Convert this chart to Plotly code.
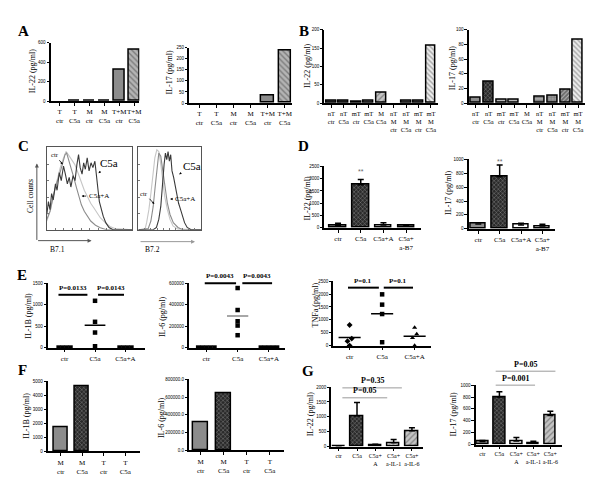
import plotly.graph_objects as go

W, H = 600, 493
FONT = "Liberation Serif"

# ------------------------------------------------------------------ data
A_cats = ["T<br>ctr", "T<br>C5a", "M<br>ctr", "M<br>C5a", "T+M<br>ctr", "T+M<br>C5a"]
A_il22 = [0, 3, 4, 3, 325, 532]
A_il17 = [0, 0, 0, 0, 35, 235]

B_cats = ["nT<br>ctr", "nT<br>C5a", "mT<br>ctr", "mT<br>C5a", "M<br>C5a",
          "nT<br>M<br>ctr", "nT<br>M<br>C5a", "mT<br>M<br>ctr", "mT<br>M<br>C5a"]
B_il22 = [5, 5, 3, 5, 27, 0, 5, 7, 155]
B_il17 = [7, 29, 5, 5, 0, 8, 10, 18, 86]

# flow histograms (x: % of box width, y: % of box height)
C1_ctr_x = [0, 4.5, 8.1, 11.9, 15.7, 19.5, 22.5, 25.1, 28.8, 32.6, 36.3, 40.1, 43.8, 47.6, 51.3, 55.1, 58.8, 62.5, 68.2, 73.8, 79.4, 100]
C1_ctr_y = [10.7, 24.6, 44.4, 60.3, 76.2, 88.1, 96, 92.1, 86.1, 80.2, 70.2, 58.3, 48.4, 40.5, 32.5, 26.6, 20.6, 14.7, 8.7, 4, 1.6, 0]
C1_a_x = [0, 3.7, 7.5, 11.2, 15, 18.7, 21.3, 23.2, 26.2, 28.8, 31.5, 34.5, 37.5, 40.4, 43.8, 47.6, 51.3, 56.9, 62.5, 70, 100]
C1_a_y = [12.7, 22.6, 40.5, 56.3, 68.3, 82.1, 92.1, 94, 84.1, 74.2, 64.3, 52.4, 40.5, 30.6, 22.6, 15.9, 10.7, 5.6, 2.4, 0, 0]
C1_c5a_x = [0, 1.9, 3.7, 5.6, 7.5, 10.1, 12, 14.6, 16.9, 19.5, 21.7, 24, 26.2, 28.1, 30.7, 33, 35.2, 37.1, 39, 41.2,
            43.1, 45, 47.2, 49.4, 51.7, 53.9, 56.2, 58.4, 59.9, 61.4, 63.7, 65.9, 68.9, 72.7, 77.5, 100]
C1_c5a_y = [18.7, 34.5, 24.6, 44.4, 36.5, 56.3, 48.4, 70.2, 60.3, 78.2, 68.3, 56.3, 64.3, 52.4, 66.3, 60.3, 80.2, 92.1, 76.2, 68.3,
            82.1, 74.2, 88.1, 72.2, 82.1, 76.2, 84.1, 66.3, 48.4, 34.5, 24.6, 16.7, 8.7, 2.8, 0, 0]

C2_ctr_x = [0, 10.5, 13.2, 16.8, 20, 23.2, 26.3, 29.5, 32.6, 35.8, 38.9, 42.1, 46.3, 50.5, 55.3, 63.2, 100]
C2_ctr_y = [0, 0, 8.7, 24.6, 44.4, 68.3, 88.1, 98, 96, 80.2, 60.3, 40.5, 24.6, 12.7, 4.8, 0.8, 0]
C2_a_x = [0, 15.8, 20, 23.7, 26.8, 30, 32.6, 35.8, 38.9, 42.1, 46.3, 50.5, 55.8, 63.2, 71.1, 100]
C2_a_y = [0, 1.6, 10.7, 28.6, 52.4, 80.2, 94, 90.1, 72.2, 52.4, 32.5, 18.7, 8.7, 2.8, 0, 0]
C2_c5a_x = [0, 23.7, 28.9, 32.6, 35.8, 38.4, 41.1, 43.2, 45.3, 47.4, 49.5, 51.6, 53.7, 56.3, 58.9, 61.6, 64.2, 67.4,
            70.5, 73.7, 77.9, 84.2, 100]
C2_c5a_y = [0, 0, 2.8, 12.7, 28.6, 56.3, 80.2, 94, 86.1, 96, 84.1, 92.1, 72.2, 64.3, 52.4, 44.4, 32.5, 24.6,
            16.7, 8.7, 2.8, 0, 0]

D_cats = ["ctr", "C5a", "C5a+A", "C5a+<br>a-B7"]
D_il22 = [100, 1750, 110, 80]
D_il22_err = [80, 220, 90, 40]
D_il17 = [70, 750, 55, 40]
D_il17_err = [0, 170, 25, 25]

E_cats = ["ctr", "C5a", "C5a+A"]
E_il1b_ctr = [0, 0, 0, 0]
E_il1b_c5a = [1090, 600, 350, 30]
E_il1b_c5aA = [0, 0, 0, 0]
E_il6_ctr = [0, 0, 0, 0, 0]
E_il6_c5a = [555000, 350000, 245000, 205000, 115000]
E_il6_c5aA = [0, 0, 0, 0, 0]
E_tnf_ctr = [800, 270, 170, 0]
E_tnf_c5a = [1990, 1590, 1225, 130]
E_tnf_c5aA = [700, 445, 295, 0]

F_cats = ["M<br>ctr", "M<br>C5a", "T<br>ctr", "T<br>C5a"]
F_il1b = [1720, 4680, 0, 0]
F_il6 = [315000, 645000, 0, 0]

G_cats = ["ctr", "C5a", "C5a+<br>A", "C5a+<br>a-IL-1", "C5a+<br>a-IL-6"]
G_il22 = [20, 1040, 40, 130, 530]
G_il22_err = [5, 440, 35, 110, 100]
G_il17 = [50, 800, 60, 30, 490]
G_il17_err = [20, 90, 60, 25, 70]

# ------------------------------------------------------------------ styles
STY = {
    "gray":   dict(c="#8c8c8c", s="", fg="#000", sz=4, so=0.3),
    "dgray":  dict(c="#5e5e5e", s="", fg="#000", sz=4, so=0.3),
    "mgray":  dict(c="#7a7a7a", s="", fg="#000", sz=4, so=0.3),
    "lgray":  dict(c="#b8b8b8", s="", fg="#000", sz=4, so=0.3),
    "white":  dict(c="#ffffff", s="", fg="#000", sz=4, so=0.3),
    "check":  dict(c="#2a2a2a", s="x", fg="#b8b8b8", sz=3, so=0.25),
    "hatch":  dict(c="#c4c4c4", s="/", fg="#5a5a5a", sz=4, so=0.3),
    "hatchb": dict(c="#b4b4b4", s="\\", fg="#5a5a5a", sz=4, so=0.35),
    "whatch": dict(c="#f0f0f0", s="\\", fg="#6a6a6a", sz=3.5, so=0.35),
    "vline":  dict(c="#ffffff", s="|", fg="#8a8a8a", sz=4, so=0.3),
    "hline":  dict(c="#a8a8a8", s="-", fg="#555555", sz=3, so=0.35),
    "grid":   dict(c="#9a9a9a", s="+", fg="#444444", sz=3, so=0.3),
    "dhatch": dict(c="#6a6a6a", s="/", fg="#2a2a2a", sz=3, so=0.35),
}

# axes boxes in pixels: x0, x1, ytop, ybottom
BOXES = {
    1: (43, 132, 33, 92), 2: (182, 285, 38, 94), 3: (318, 432, 20, 94), 4: (463, 580, 20, 94),
    5: (39, 125, 138, 222), 6: (131, 194, 138, 222), 7: (318, 415, 158, 220), 8: (463, 550, 151, 221),
    9: (40, 138, 276, 341), 10: (182, 278, 276, 341), 11: (327, 425, 274, 339),
    12: (40, 133, 375, 446), 13: (182, 277, 373, 445), 14: (325, 417, 381, 441), 15: (470, 557, 379, 439),
}
RANGES = {}

fig = go.Figure()
layout = dict(width=W, height=H, margin=dict(l=0, r=0, t=0, b=0), paper_bgcolor="white",
              plot_bgcolor="rgba(0,0,0,0)", showlegend=False, font=dict(family=FONT, color="black"))
annotations, shapes = [], []


def ax_names(n):
    return ("xaxis" if n == 1 else f"xaxis{n}", "yaxis" if n == 1 else f"yaxis{n}",
            "x" if n == 1 else f"x{n}", "y" if n == 1 else f"y{n}")


def to_paper(n, xv, yv):
    x0, x1, yt, yb = BOXES[n]
    (xr0, xr1), (yr0, yr1) = RANGES[n]
    px = x0 + (xv - xr0) / (xr1 - xr0) * (x1 - x0)
    py = yb - (yv - yr0) / (yr1 - yr0) * (yb - yt)
    return px / W, 1 - py / H


def make_axes(n, xr, yr, cats=None, yticks=None, yticktext=None, hist=False, catsize=7):
    xa, ya, _, _ = ax_names(n)
    x0, x1, yt, yb = BOXES[n]
    RANGES[n] = (xr, yr)
    xd = [x0 / W, x1 / W]
    yd = [1 - yb / H, 1 - yt / H]
    if hist:
        common = dict(showline=True, linecolor="#555", linewidth=1, mirror=True, ticks="inside",
                      ticklen=2, tickcolor="#777", showticklabels=False, showgrid=False, zeroline=False,
                      fixedrange=True)
        layout[xa] = dict(domain=xd, range=xr, anchor=ax_names(n)[3], tickvals=[10, 20, 30, 40, 50, 60, 70, 80, 90], **common)
        layout[ya] = dict(domain=yd, range=yr, anchor=ax_names(n)[2], tickvals=[20, 40, 60, 80], **common)
        return
    layout[xa] = dict(domain=xd, range=xr, anchor=ax_names(n)[3], showline=True, linecolor="black",
                      linewidth=1.5, ticks="outside", ticklen=3, tickwidth=1, tickcolor="black",
                      tickvals=list(range(len(cats))), ticktext=cats, tickangle=0,
                      tickfont=dict(family=FONT, size=catsize), showgrid=False, zeroline=False)
    layout[ya] = dict(domain=yd, range=yr, anchor=ax_names(n)[2], showline=True, linecolor="black",
                      linewidth=1.5, ticks="outside", ticklen=2.5, tickwidth=1, tickcolor="black",
                      tickvals=yticks, ticktext=yticktext or [str(v) for v in yticks], tickangle=0,
                      tickfont=dict(family="Liberation Sans", size=4.5), showgrid=False, zeroline=False)


def bars(n, vals, styles, err=None, width=0.7):
    _, _, xr, yr = ax_names(n)
    st = [STY[s] for s in styles]
    kw = {}
    if err is not None:
        kw["error_y"] = dict(type="data", array=err, arrayminus=[0] * len(err), symmetric=False,
                             color="black", thickness=1.5, width=3)
    fig.add_trace(go.Bar(
        x=list(range(len(vals))), y=vals, width=width, xaxis=xr, yaxis=yr,
        marker=dict(color=[s["c"] for s in st],
                    line=dict(color="black", width=[1.5 if v > 0 else 0 for v in vals]),
                    pattern=dict(shape=[s["s"] for s in st], fgcolor=[s["fg"] for s in st],
                                 size=[s["sz"] for s in st],
                                 solidity=[s["so"] for s in st], fillmode="overlay")),
        **kw))


def spread(vals, n, thresh_px=4.0, step=0.13):
    """horizontal offsets for points that would overlap (dot-plot style)."""
    x0, x1, yt, yb = BOXES[n]
    (_, _), (yr0, yr1) = RANGES[n]
    pix = [(v - yr0) / (yr1 - yr0) * (yb - yt) for v in vals]
    order = sorted(range(len(vals)), key=lambda i: pix[i])
    clusters, cur = [], [order[0]]
    for i in order[1:]:
        if abs(pix[i] - pix[cur[-1]]) < thresh_px:
            cur.append(i)
        else:
            clusters.append(cur)
            cur = [i]
    clusters.append(cur)
    off = [0.0] * len(vals)
    for cl in clusters:
        m = len(cl)
        for k, i in enumerate(cl):
            off[i] = (k - (m - 1) / 2) * step
    return off


def dots(n, groups, symbols, mean_color="black", size=4.5):
    _, _, xr, yr = ax_names(n)
    for gi, (vals, sym) in enumerate(zip(groups, symbols)):
        off = spread(vals, n)
        m = sum(vals) / len(vals)
        if m > 0:
            fig.add_trace(go.Scatter(x=[gi - 0.34, gi + 0.34], y=[m, m], mode="lines", xaxis=xr, yaxis=yr,
                                     line=dict(color=mean_color, width=1.5)))
        fig.add_trace(go.Scatter(x=[gi + o for o in off], y=vals, mode="markers", xaxis=xr, yaxis=yr,
                                 marker=dict(symbol=sym, size=size, color="black"), cliponaxis=False))


def pline(n, xa_, xb_, yv, label, color="black", width=2, size=7, gap=7):
    xa_p, y_p = to_paper(n, xa_, yv)
    xb_p, _ = to_paper(n, xb_, yv)
    shapes.append(dict(type="line", xref="paper", yref="paper", x0=xa_p, x1=xb_p, y0=y_p, y1=y_p,
                       line=dict(color=color, width=width)))
    annotations.append(dict(xref="paper", yref="paper", x=(xa_p + xb_p) / 2, y=y_p + gap / H, text=label,
                            showarrow=False, font=dict(family=FONT, size=size, color="black"),
                            xanchor="center", yanchor="middle"))


def text(x, y, s, size=8.5, angle=0, bold=False, color="black"):
    if bold:
        s = f"<b>{s}</b>"
    annotations.append(dict(xref="paper", yref="paper", x=x / W, y=1 - y / H, text=s, showarrow=False,
                            textangle=angle, font=dict(family=FONT, size=size, color=color),
                            xanchor="center", yanchor="middle"))


def arrow_label(tx, ty, hx, hy, s, size=7, color="black"):
    annotations.append(dict(xref="paper", yref="paper", x=hx / W, y=1 - hy / H, ax=tx - hx, ay=ty - hy,
                            text=s, showarrow=True, arrowhead=2, arrowsize=0.6, arrowwidth=0.8,
                            arrowcolor=color, font=dict(family=FONT, size=size, color="black"),
                            standoff=0, startstandoff=1))


# ------------------------------------------------------------------ A
make_axes(1, [-0.6, 5.35], [0, 600], A_cats, [0, 200, 400, 600])
bars(1, A_il22, ["gray", "gray", "gray", "gray", "gray", "hatchb"], width=0.72)
make_axes(2, [-0.6, 5.4], [0, 250], A_cats, [0, 50, 100, 150, 200, 250])
bars(2, A_il17, ["gray", "gray", "gray", "gray", "gray", "hatchb"], width=0.72)

# ------------------------------------------------------------------ B
make_axes(3, [-0.55, 8.55], [0, 200], B_cats, [0, 50, 100, 150, 200], catsize=6.5)
bars(3, B_il22, ["dgray", "dgray", "mgray", "gray", "hatch", "gray", "gray", "mgray", "whatch"], width=0.78)
make_axes(4, [-0.55, 8.55], [0, 100], B_cats, [0, 20, 40, 60, 80, 100], catsize=6.5)
bars(4, B_il17, ["gray", "check", "lgray", "lgray", "gray", "hline", "grid", "dhatch", "whatch"], width=0.78)

# ------------------------------------------------------------------ C
make_axes(5, [0, 100], [0, 102], hist=True)
make_axes(6, [0, 100], [0, 102], hist=True)
for n, xs, ys, col in [(5, C1_ctr_x, C1_ctr_y, "#c6c6c6"), (5, C1_a_x, C1_a_y, "#8c8c8c"),
                       (5, C1_c5a_x, C1_c5a_y, "#3a3a3a"), (6, C2_ctr_x, C2_ctr_y, "#c6c6c6"),
                       (6, C2_a_x, C2_a_y, "#8c8c8c"), (6, C2_c5a_x, C2_c5a_y, "#3a3a3a")]:
    _, _, xr, yr = ax_names(n)
    fig.add_trace(go.Scatter(x=xs, y=ys, mode="lines", xaxis=xr, yaxis=yr, line=dict(color=col, width=1.1)))

# axis arrows
annotations.append(dict(xref="paper", yref="paper", x=29 / W, y=1 - 155 / H, ax=0, ay=78, text="",
                        showarrow=True, arrowhead=2, arrowsize=0.8, arrowwidth=1, arrowcolor="#555"))
annotations.append(dict(xref="paper", yref="paper", x=84 / W, y=1 - 233 / H, ax=-55, ay=0, text="",
                        showarrow=True, arrowhead=2, arrowsize=0.8, arrowwidth=1, arrowcolor="#555"))
annotations.append(dict(xref="paper", yref="paper", x=188 / W, y=1 - 234 / H, ax=-56, ay=0, text="",
                        showarrow=True, arrowhead=2, arrowsize=0.8, arrowwidth=1, arrowcolor="#999"))
text(22, 188, "Cell counts", size=7.5, angle=-90)
text(50, 242, "B7.1", size=7.5)
text(145, 242, "B7.2", size=7.5)
arrow_label(47, 146, 55, 156, "ctr", size=6.5)
arrow_label(101, 155, 91, 165, "C5a", size=11)
arrow_label(91, 188, 74, 188, "C5a+A", size=7)
arrow_label(137, 185, 147, 196, "ctr", size=6.5)
arrow_label(185, 158, 172, 166, "C5a", size=11)
arrow_label(178, 191, 163, 191, "C5a+A", size=7)

# ------------------------------------------------------------------ D
make_axes(7, [-0.6, 3.65], [0, 2500], D_cats, [0, 500, 1000, 1500, 2000, 2500])
bars(7, D_il22, ["gray", "check", "white", "dgray"], D_il22_err, width=0.72)
make_axes(8, [-0.45, 3.6], [0, 1000], D_cats, [0, 200, 400, 600, 800, 1000])
bars(8, D_il17, ["gray", "check", "white", "white"], D_il17_err, width=0.72)
annotations.append(dict(xref="x7", yref="y7", x=1, y=2300, text="**", showarrow=False,
                        font=dict(family="Liberation Sans", size=7, color="#666")))
annotations.append(dict(xref="x8", yref="y8", x=1, y=970, text="**", showarrow=False,
                        font=dict(family="Liberation Sans", size=7, color="#666")))

# ------------------------------------------------------------------ E
make_axes(9, [-0.55, 2.65], [0, 1500], E_cats, [0, 500, 1000, 1500])
dots(9, [E_il1b_ctr, E_il1b_c5a, E_il1b_c5aA], ["square", "square", "square"])
pline(9, -0.2, 0.75, 1230, "<b>P=0.0133</b>")
pline(9, 1.1, 1.95, 1230, "<b>P=0.0143</b>")
make_axes(10, [-0.55, 2.5], [0, 600000], E_cats, [0, 200000, 400000, 600000])
dots(10, [E_il6_ctr, E_il6_c5a, E_il6_c5aA], ["square", "square", "square"], mean_color="#8a8a8a")
pline(10, -0.05, 0.95, 600000, "<b>P=0.0043</b>")
pline(10, 1.15, 2.1, 600000, "<b>P=0.0043</b>")
make_axes(11, [-0.5, 2.5], [0, 2500], E_cats, [0, 500, 1000, 1500, 2000, 2500])
dots(11, [E_tnf_ctr, E_tnf_c5a, E_tnf_c5aA], ["diamond", "square", "triangle-up"])
pline(11, -0.05, 0.9, 2250, "<b>P=0.1</b>")
pline(11, 1.05, 1.95, 2250, "<b>P=0.1</b>")

# ------------------------------------------------------------------ F
make_axes(12, [-0.6, 3.7], [0, 5000], F_cats, [0, 1000, 2000, 3000, 4000, 5000])
bars(12, F_il1b, ["gray", "check", "gray", "gray"], width=0.65)
make_axes(13, [-0.5, 3.6], [0, 800000], F_cats, [0, 200000, 400000, 600000, 800000],
          ["0.0", "200000.0", "400000.0", "600000.0", "800000.0"])
bars(13, F_il6, ["gray", "check", "gray", "gray"], width=0.65)

# ------------------------------------------------------------------ G
make_axes(14, [-0.4, 4.6], [0, 2000], G_cats, [0, 500, 1000, 1500, 2000], catsize=6)
bars(14, G_il22, ["gray", "check", "white", "vline", "hatch"], G_il22_err, width=0.68)
pline(14, 0.2, 3.45, 1975, "<b>P=0.35</b>", color="#9a9a9a", width=1, size=8, gap=7)
pline(14, 0.2, 2.65, 1640, "<b>P=0.05</b>", color="#9a9a9a", width=1, size=8, gap=7)
make_axes(15, [-0.4, 4.7], [0, 1000], G_cats, [0, 200, 400, 600, 800, 1000], catsize=6)
bars(15, G_il17, ["gray", "check", "white", "vline", "hatch"], G_il17_err, width=0.68)
pline(15, 0.78, 4.3, 1235, "<b>P=0.05</b>", color="#9a9a9a", width=1, size=8, gap=7)
pline(15, 0.78, 3.1, 1000, "<b>P=0.001</b>", color="#9a9a9a", width=1, size=8, gap=7)

# ------------------------------------------------------------------ y titles
for x, y, s in [(25, 61, "IL-22 (pg/ml)"), (162, 63, "IL-17 (pg/ml)"), (301, 56, "IL-22 (pg/ml)"),
                (447, 58, "IL-17 (pg/ml)"), (301, 190, "IL-22 (pg/ml)"), (442, 184, "IL-17 (pg/ml)"),
                (21, 309, "IL-1B (pg/ml)"), (156, 310, "IL-6 (pg/ml)"), (310, 298, "TNFa (pg/ml)"),
                (19, 410, "IL-1B (pg/ml)"), (155, 412, "IL-6 (pg/ml)"), (304, 408, "IL-22 (pg/ml)"),
                (448, 408, "IL-17 (pg/ml)")]:
    text(x, y, s, size=8, angle=-90)

# ------------------------------------------------------------------ panel letters
for x, y, s in [(16, 21, "A"), (297, 21, "B"), (16, 137, "C"), (297, 137, "D"),
                (14, 268, "E"), (15, 364, "F"), (302, 365, "G")]:
    text(x, y, s, size=15, bold=True)

layout["annotations"] = annotations
layout["shapes"] = shapes
layout["bargap"] = 0
fig.update_layout(**layout)
fig.write_html("out.html")
